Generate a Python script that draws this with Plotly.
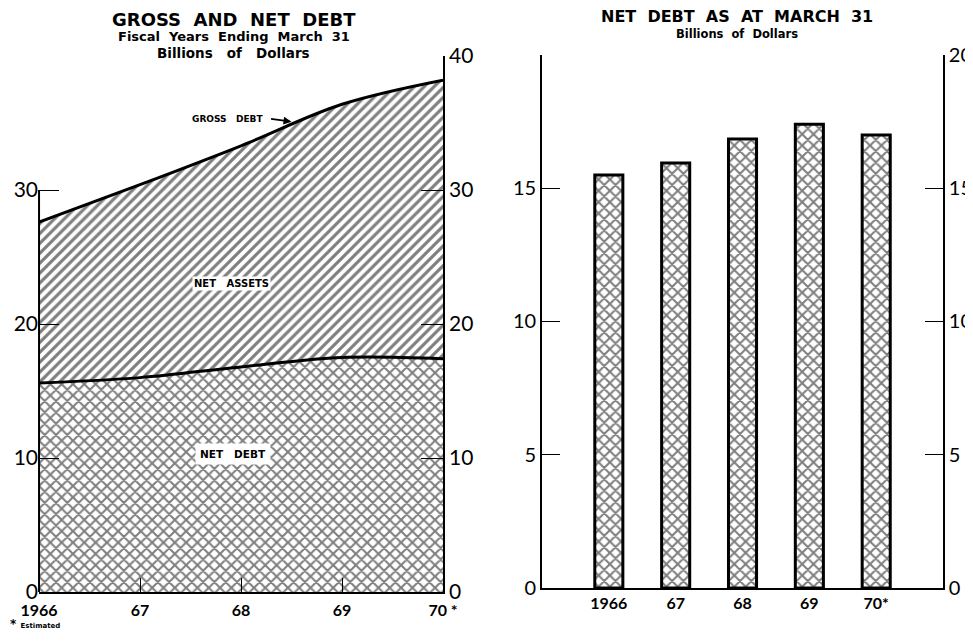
import plotly.graph_objects as go

years = [1966, 1967, 1968, 1969, 1970]
gross_debt = [27.6, 30.4, 33.3, 36.4, 38.2]
net_debt_line = [15.6, 16.0, 16.8, 17.5, 17.4]

bar_labels = ["1966", "67", "68", "69", "70*"]
net_debt_bars = [15.5, 15.95, 16.85, 17.4, 17.0]

left_ticktext = ["1966", "67", "68", "69", "70 *"]

TITLE_FONT = "DejaVu Sans"
NUM_FONT = "Lato"

fig = go.Figure()

# left panel: stacked hatched areas
fig.add_trace(go.Scatter(
    x=years, y=net_debt_line, mode="lines", line=dict(color="black", width=3, shape="spline"),
    fill="tozeroy", fillcolor="white",
    fillpattern=dict(shape="x", fgcolor="black", bgcolor="white", size=8, solidity=0.45),
    xaxis="x", yaxis="y", showlegend=False, hoverinfo="skip"))
fig.add_trace(go.Scatter(
    x=years, y=gross_debt, mode="lines", line=dict(color="black", width=3, shape="spline"),
    fill="tonexty", fillcolor="white",
    fillpattern=dict(shape="/", fgcolor="black", bgcolor="white", size=7, solidity=0.45),
    xaxis="x", yaxis="y", showlegend=False, hoverinfo="skip"))
fig.add_trace(go.Scatter(x=years, y=gross_debt, mode="markers", marker=dict(opacity=0),
                         xaxis="x", yaxis="y2", showlegend=False, hoverinfo="skip"))

# right panel: bars
fig.add_trace(go.Bar(
    x=bar_labels, y=net_debt_bars, width=0.42,
    marker=dict(color="white", line=dict(color="black", width=3),
                pattern=dict(shape="x", fgcolor="black", bgcolor="white", size=8, solidity=0.45)),
    xaxis="x2", yaxis="y3", showlegend=False, hoverinfo="skip"))
fig.add_trace(go.Scatter(x=bar_labels, y=net_debt_bars, mode="markers", marker=dict(opacity=0),
                         xaxis="x2", yaxis="y4", showlegend=False, hoverinfo="skip"))

numfont = dict(family=NUM_FONT, size=21, color="black")
rnumfont = dict(family=NUM_FONT, size=20, color="black")
yaxis_common = dict(automargin=False, tickwidth=1.3, tickcolor="black", showgrid=False,
                    zeroline=False, linecolor="black", linewidth=1.5)

fig.update_layout(
    width=973, height=642,
    margin=dict(l=0, r=0, t=0, b=0, autoexpand=False),
    paper_bgcolor="white", plot_bgcolor="white",
    font=dict(family=NUM_FONT, color="black"),
    xaxis=dict(domain=[0.0319, 0.4471], range=[1966, 1970], anchor="y", automargin=False,
               tickvals=years, ticktext=left_ticktext, ticks="inside", ticklen=14,
               tickwidth=1.3, tickcolor="black", showline=True, linecolor="black", linewidth=2,
               showgrid=False, zeroline=False, ticklabelstandoff=3,
               tickfont=dict(family=NUM_FONT, size=16, color="black", weight="bold")),
    yaxis=dict(domain=[0.0903, 0.9252], range=[0, 40], anchor="x", tickvals=[0, 10, 20, 30],
               ticks="inside", ticklen=20, showline=False, tickfont=numfont, **yaxis_common),
    yaxis2=dict(range=[0, 40], overlaying="y", side="right", anchor="x",
                tickvals=[0, 10, 20, 30, 40], ticks="inside", ticklen=22, showline=True,
                tickfont=numfont, **yaxis_common),
    xaxis2=dict(domain=[0.5488, 0.961], range=[-1, 5], anchor="y3", type="category",
                automargin=False, ticks="", showline=True, linecolor="black", linewidth=1.5,
                showgrid=False,
                tickfont=dict(family=NUM_FONT, size=16, color="black", weight="bold")),
    yaxis3=dict(domain=[0.0966, 0.9268], range=[0, 20], anchor="x2",
                tickvals=[0, 5, 10, 15, 20], ticktext=["0", "5", "10", "15", ""],
                ticks="inside", ticklen=18, showline=True, tickfont=rnumfont, **yaxis_common),
    yaxis4=dict(range=[0, 20], overlaying="y3", side="right", anchor="x2",
                tickvals=[0, 5, 10, 15, 20], ticks="inside", ticklen=18, showline=True,
                tickfont=rnumfont, **yaxis_common),
)

# left axis line only runs from 0 to 30
fig.add_shape(type="line", xref="x domain", yref="y", x0=0, x1=0, y0=0, y1=30,
              line=dict(color="black", width=2))


# titles
def title(text, x, y, size):
    fig.add_annotation(x=x, y=y, xref="paper", yref="paper", xanchor="center",
                       yanchor="middle", showarrow=False, text=f"<b>{text}</b>",
                       font=dict(family=TITLE_FONT, size=size))


title("GROSS  AND  NET  DEBT", 0.232, 0.982, 18)
title("Fiscal  Years  Ending  March  31", 0.232, 0.955, 13)
title("Billions   of   Dollars", 0.232, 0.930, 13.5)
title("NET  DEBT  AS  AT  MARCH  31", 0.749, 0.986, 16)
title("Billions  of  Dollars", 0.749, 0.959, 11.5)

# labels inside the areas
fig.add_annotation(x=1967.87, y=35.3, xref="x", yref="y", showarrow=False,
                   text="<b>GROSS   DEBT</b>", font=dict(family=TITLE_FONT, size=9))
fig.add_annotation(x=1968.5, y=35.1, xref="x", yref="y", ax=-22, ay=-3,
                   showarrow=True, arrowhead=2, arrowsize=1, arrowwidth=1.6, arrowcolor="black",
                   text="")
fig.add_annotation(x=1967.91, y=23.06, xref="x", yref="y", showarrow=False, bgcolor="white",
                   text="<b>NET   ASSETS</b>", font=dict(family=TITLE_FONT, size=10))
fig.add_annotation(x=1967.92, y=10.3, xref="x", yref="y", showarrow=False, bgcolor="white",
                   borderpad=4, text="<b>NET   DEBT</b>", font=dict(family=TITLE_FONT, size=10.5))
fig.add_annotation(x=0.0, y=0.026, xref="paper", yref="paper", showarrow=False,
                   xanchor="left",
                   text="<b>* <span style='font-size:7px'>Estimated</span></b>",
                   font=dict(family=TITLE_FONT, size=12))

fig.write_html("out.html")
